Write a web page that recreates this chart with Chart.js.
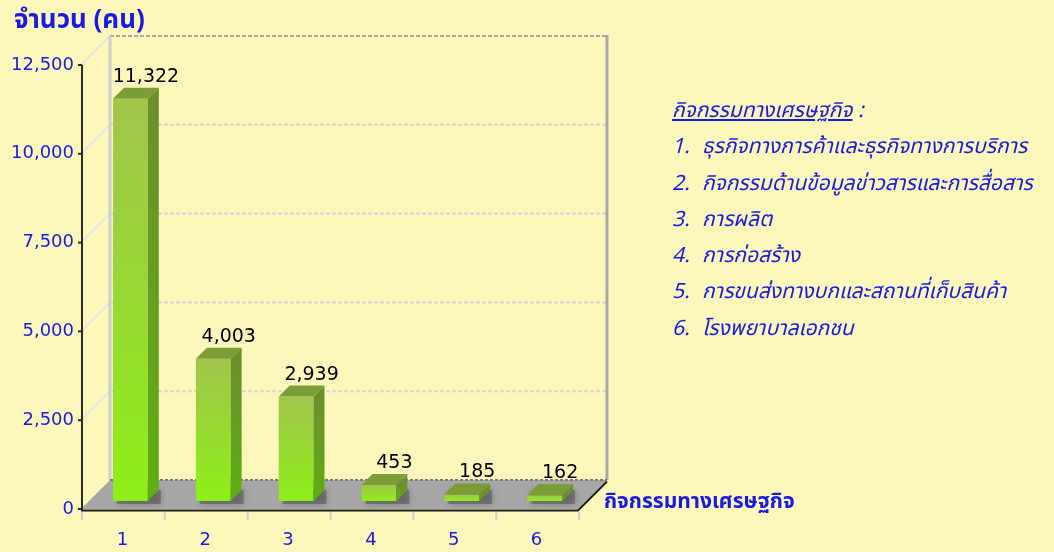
<!DOCTYPE html>
<html>
<head>
<meta charset="utf-8">
<script src="https://cdn.jsdelivr.net/npm/chart.js@4.4.0/dist/chart.umd.min.js"></script>
<style>
  body { margin: 0; background: #fcf7bb; }
  #wrap { position: relative; width: 1054px; height: 552px; }
  .thai { font-family: Tahoma, "Noto Sans Thai", "Noto Sans", "DejaVu Sans", sans-serif; color: #1a1ae6; position: absolute; white-space: nowrap; }
  #ytitle { left: 14px; top: 0px; font-size: 26px; font-weight: bold; }
  #xtitle { left: 604px; top: 486px; font-size: 21px; font-weight: bold; }
  #legend { left: 672px; top: 93px; font-size: 21px; font-style: italic; line-height: 36.3px; }
  #legend .n { display: inline-block; width: 30px; }
</style>
</head>
<body>
<div id="wrap">
  <canvas id="chart" width="1054" height="552"></canvas>
  <div class="thai" id="ytitle">จำนวน (คน)</div>
  <div class="thai" id="xtitle">กิจกรรมทางเศรษฐกิจ</div>
  <div class="thai" id="legend"></div>
</div>
<script>
// data
var categories = ['1', '2', '3', '4', '5', '6'];
var workers = [11322, 4003, 2939, 453, 185, 162];
var yTicks = [0, 2500, 5000, 7500, 10000, 12500];
var legendTitle = 'กิจกรรมทางเศรษฐกิจ';
var legendNames = [
    'ธุรกิจทางการค้าและธุรกิจทางการบริการ',
    'กิจกรรมด้านข้อมูลข่าวสารและการสื่อสาร',
    'การผลิต',
    'การก่อสร้าง',
    'การขนส่งทางบกและสถานที่เก็บสินค้า',
    'โรงพยาบาลเอกชน'
];

// legend text on the right
var lg = document.getElementById('legend');
var html = '<div><u>' + legendTitle + '</u> :</div>';
for (var i = 0; i < legendNames.length; i++) {
    html += '<div><span class="n">' + categories[i] + '.</span>' + legendNames[i] + '</div>';
}
lg.innerHTML = html;

var DEPTH = 29;      // depth of the box (px)
var BAR_SHIFT = 8;   // bars stand a little behind the front edge
var BAR_DEPTH = 11;

function fmt(v) {
    return v.toLocaleString('en-US');
}

function line(ctx, x1, y1, x2, y2) {
    ctx.beginPath();
    ctx.moveTo(x1, y1);
    ctx.lineTo(x2, y2);
    ctx.stroke();
}

var box3d = {
    id: 'box3d',
    beforeDatasetsDraw: function(chart) {
        var ctx = chart.ctx;
        var xs = chart.scales.x, ys = chart.scales.y;
        var L = xs.left, R = xs.right, y0 = ys.getPixelForValue(0);
        ctx.save();

        // side wall diagonals + back wall grid
        for (var i = 0; i < yTicks.length; i++) {
            var y = ys.getPixelForValue(yTicks[i]);
            ctx.setLineDash([]);
            ctx.strokeStyle = '#e4e4e4';
            ctx.lineWidth = 2;
            if (i > 0) line(ctx, L, y, L + DEPTH, y - DEPTH);
            ctx.setLineDash([4, 2]);
            ctx.strokeStyle = i == yTicks.length - 1 ? '#a8a8a8' : '#d6d6d6';
            if (i > 0) line(ctx, L + DEPTH, y - DEPTH, R + DEPTH, y - DEPTH);
        }
        ctx.setLineDash([]);

        // back wall edges
        var top = ys.getPixelForValue(yTicks[yTicks.length - 1]) - DEPTH;
        ctx.lineWidth = 3;
        ctx.strokeStyle = '#cfcfcf';
        line(ctx, L + DEPTH, top, L + DEPTH, y0 - DEPTH);
        ctx.strokeStyle = '#a9a9a9';
        line(ctx, R + DEPTH, top - 1, R + DEPTH, y0 - DEPTH);

        // floor
        ctx.fillStyle = '#a7a7a7';
        ctx.beginPath();
        ctx.moveTo(L, y0);
        ctx.lineTo(R, y0);
        ctx.lineTo(R + DEPTH, y0 - DEPTH);
        ctx.lineTo(L + DEPTH, y0 - DEPTH);
        ctx.closePath();
        ctx.fill();
        ctx.setLineDash([3, 2]);
        ctx.strokeStyle = '#7c7c7c';
        ctx.lineWidth = 2;
        line(ctx, L + DEPTH, y0 - DEPTH, R + DEPTH, y0 - DEPTH);
        ctx.setLineDash([]);
        ctx.strokeStyle = '#1c1c1c';
        ctx.lineWidth = 2;
        ctx.beginPath();
        ctx.moveTo(L, y0 + 1.5);
        ctx.lineTo(R, y0 + 1.5);
        ctx.lineTo(R + DEPTH, y0 - DEPTH + 1.5);
        ctx.stroke();

        // x ticks under the floor
        ctx.strokeStyle = '#d0d0d0';
        ctx.lineWidth = 2;
        for (var k = 0; k <= categories.length; k++) {
            var xx = L + (R - L) * k / categories.length;
            line(ctx, xx + 1, y0 + 3, xx + 1, y0 + 11);
        }

        // front axis
        ctx.strokeStyle = '#2a2a2a';
        ctx.lineWidth = 2;
        line(ctx, L + 1, ys.getPixelForValue(yTicks[yTicks.length - 1]), L + 1, y0 + 2);
        for (var j = 0; j < yTicks.length; j++) {
            var ty = ys.getPixelForValue(yTicks[j]);
            line(ctx, L - 3, ty, L + 1, ty);
        }

        // shadows of bars on the floor
        var meta = chart.getDatasetMeta(0);
        ctx.fillStyle = 'rgba(70,70,70,0.45)';
        ctx.shadowColor = 'rgba(60,60,60,0.8)';
        ctx.shadowBlur = 6;
        meta.data.forEach(function(bar) {
            var x1 = bar.x - bar.width / 2 + BAR_SHIFT;
            var b = y0 - BAR_SHIFT;
            ctx.fillRect(x1 + 4, b - BAR_DEPTH, bar.width + BAR_DEPTH - 2, BAR_DEPTH + 3);
        });
        ctx.restore();
    },
    afterDatasetsDraw: function(chart) {
        var ctx = chart.ctx;
        var meta = chart.getDatasetMeta(0);
        var data = chart.data.datasets[0].data;
        ctx.save();
        meta.data.forEach(function(bar, i) {
            var w = bar.width;
            var x1 = bar.x - w / 2 + BAR_SHIFT;
            var x2 = x1 + w;
            var b = bar.base - BAR_SHIFT;
            var t = bar.y - BAR_SHIFT;
            var d = BAR_DEPTH;

            // front
            var g = ctx.createLinearGradient(0, t, 0, b);
            g.addColorStop(0, '#a2c54c');
            g.addColorStop(0.5, '#97d932');
            g.addColorStop(1, '#8eef18');
            ctx.fillStyle = g;
            ctx.fillRect(x1, t, w, b - t);

            // side
            var gs = ctx.createLinearGradient(0, t, 0, b);
            gs.addColorStop(0, '#6c8f2c');
            gs.addColorStop(1, '#5fae14');
            ctx.fillStyle = gs;
            ctx.beginPath();
            ctx.moveTo(x2, t);
            ctx.lineTo(x2 + d, t - d);
            ctx.lineTo(x2 + d, b - d);
            ctx.lineTo(x2, b);
            ctx.closePath();
            ctx.fill();

            // top
            ctx.fillStyle = '#7b9c37';
            ctx.beginPath();
            ctx.moveTo(x1, t);
            ctx.lineTo(x1 + d, t - d);
            ctx.lineTo(x2 + d, t - d);
            ctx.lineTo(x2, t);
            ctx.closePath();
            ctx.fill();

            // value label
            ctx.fillStyle = '#000';
            ctx.font = '19px "DejaVu Sans", Tahoma, sans-serif';
            ctx.textAlign = 'center';
            ctx.textBaseline = 'alphabetic';
            ctx.fillText(fmt(data[i]), (x1 + x2 + d) / 2 + 10, t - d - 6);
        });
        ctx.restore();
    }
};

new Chart(document.getElementById('chart'), {
    type: 'bar',
    data: {
        labels: categories,
        datasets: [{
            data: workers,
            backgroundColor: 'rgba(0,0,0,0)',
            borderWidth: 0,
            categoryPercentage: 1,
            barPercentage: 0.42
        }]
    },
    options: {
        responsive: false,
        animation: false,
        layout: { padding: { left: 0, top: 65, right: 476, bottom: 0 } },
        plugins: { legend: { display: false }, tooltip: { enabled: false } },
        scales: {
            x: {
                grid: { display: false, drawTicks: false },
                border: { display: false },
                ticks: {
                    padding: 21,
                    color: '#1a1ae6',
                    font: { family: '"DejaVu Sans", Tahoma, sans-serif', size: 18 }
                },
                afterFit: function(s) { s.height = 43; }
            },
            y: {
                min: 0,
                max: 12500,
                grid: { display: false, drawTicks: false },
                border: { display: false },
                afterBuildTicks: function(s) {
                    s.ticks = yTicks.map(function(v) { return { value: v }; });
                },
                ticks: {
                    padding: 7,
                    color: '#1a1ae6',
                    font: { family: '"DejaVu Sans", Tahoma, sans-serif', size: 18 },
                    callback: function(v) { return fmt(v); }
                },
                afterFit: function(s) { s.width = 81; }
            }
        }
    },
    plugins: [box3d]
});
</script>
</body>
</html>
